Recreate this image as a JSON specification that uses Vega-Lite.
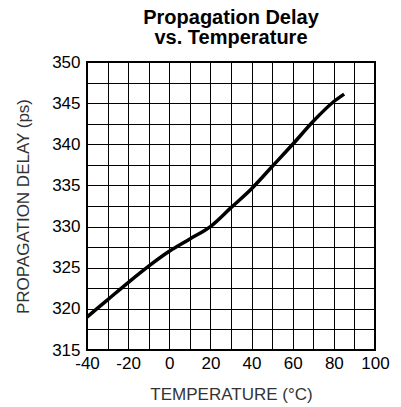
{
  "$schema": "https://vega.github.io/schema/vega-lite/v6.json",
  "width": 288,
  "height": 288,
  "autosize": {"type": "none"},
  "padding": {"left": 87, "top": 62, "right": 26, "bottom": 57},
  "background": "white",
  "title": {
    "text": ["Propagation Delay", "vs. Temperature"],
    "font": "Liberation Sans",
    "fontSize": 20,
    "fontWeight": "bold",
    "lineHeight": 20,
    "color": "black",
    "anchor": "middle",
    "offset": 5
  },
  "config": {
    "view": {"stroke": "black", "strokeWidth": 2},
    "axis": {
      "labelFont": "Liberation Sans",
      "titleFont": "Liberation Sans",
      "labelColor": "black",
      "labelFontSize": 17,
      "titleFontSize": 17,
      "titleFontWeight": "normal",
      "titleColor": "#333333",
      "gridColor": "black",
      "gridOpacity": 1,
      "gridWidth": 1,
      "domain": false,
      "ticks": false,
      "labelOverlap": false,
      "labelFlush": false,
      "labelBound": false
    }
  },
  "data": {
    "values": [
      {"t": -40, "d": 319.0},
      {"t": -30, "d": 321.1},
      {"t": -20, "d": 323.2},
      {"t": -10, "d": 325.2},
      {"t": 0, "d": 327.0},
      {"t": 10, "d": 328.5},
      {"t": 20, "d": 330.0},
      {"t": 30, "d": 332.3},
      {"t": 40, "d": 334.6},
      {"t": 50, "d": 337.3},
      {"t": 60, "d": 340.0},
      {"t": 70, "d": 342.8},
      {"t": 80, "d": 345.2},
      {"t": 85, "d": 346.1}
    ]
  },
  "mark": {"type": "line", "color": "black", "strokeWidth": 3.5, "interpolate": "monotone", "clip": true},
  "encoding": {
    "x": {
      "field": "t",
      "type": "quantitative",
      "scale": {"domain": [-40, 100], "nice": false, "zero": false},
      "axis": {
        "title": "TEMPERATURE (°C)",
        "values": [-40, -30, -20, -10, 0, 10, 20, 30, 40, 50, 60, 70, 80, 90, 100],
        "labelExpr": "datum.value % 20 == 0 ? '' + datum.value : ''",
        "labelPadding": 5,
        "titlePadding": 15
      }
    },
    "y": {
      "field": "d",
      "type": "quantitative",
      "scale": {"domain": [315, 350], "nice": false, "zero": false},
      "axis": {
        "title": "PROPAGATION DELAY (ps)",
        "values": [315, 317.5, 320, 322.5, 325, 327.5, 330, 332.5, 335, 337.5, 340, 342.5, 345, 347.5, 350],
        "labelExpr": "datum.value % 5 == 0 ? '' + datum.value : ''",
        "labelPadding": 7,
        "titlePadding": 19
      }
    }
  }
}
